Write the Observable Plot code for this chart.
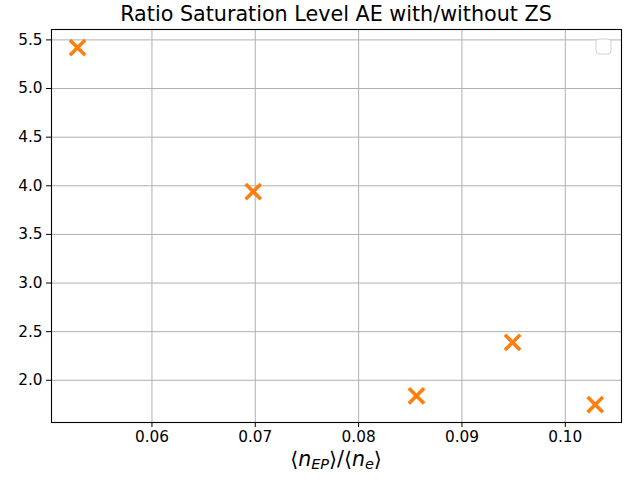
<!DOCTYPE html>
<html>
<head>
<meta charset="utf-8">
<script src="https://cdn.jsdelivr.net/npm/d3@7"></script>
<script src="https://cdn.jsdelivr.net/npm/@observablehq/plot@0.6"></script>
<style>
  body { margin: 0; background: #fff; }
  svg { font-family: "DejaVu Sans", sans-serif; }
</style>
</head>
<body>
<div id="chart"></div>
<script>
// Data
const ratioNep = [0.0528, 0.0698, 0.0856, 0.0949, 0.1029];
const saturationRatio = [5.42, 3.94, 1.84, 2.39, 1.75];
const xTicks = [0.06, 0.07, 0.08, 0.09, 0.10];
const yTicks = [2.0, 2.5, 3.0, 3.5, 4.0, 4.5, 5.0, 5.5];
const titleText = "Ratio Saturation Level AE with/without ZS";

const points = ratioNep.map((x, i) => ({x, y: saturationRatio[i]}));

const W = 640, H = 480;
const mL = 51, mR = 19, mT = 29, mB = 58;

const svg = Plot.plot({
  width: W,
  height: H,
  marginLeft: mL,
  marginRight: mR,
  marginTop: mT,
  marginBottom: mB,
  style: {fontFamily: "DejaVu Sans, sans-serif", fontSize: "15px", color: "#000", background: "#fff"},
  x: {domain: [0.05028, 0.10544], ticks: xTicks, tickFormat: d3.format(".2f"), label: null},
  y: {domain: [1.566, 5.607], ticks: yTicks, tickFormat: d3.format(".1f"), label: null},
  marks: [
    Plot.gridX(xTicks, {stroke: "#b0b0b0", strokeOpacity: 1, strokeWidth: 1}),
    Plot.gridY(yTicks, {stroke: "#b0b0b0", strokeOpacity: 1, strokeWidth: 1}),
    Plot.frame({stroke: "#000", strokeWidth: 1.1}),
    Plot.axisX(xTicks, {tickSize: 5, tickPadding: 4, tickFormat: d3.format(".2f"), fontSize: 15.3, stroke: "#000"}),
    Plot.axisY(yTicks, {tickSize: 5, tickPadding: 4, tickFormat: d3.format(".1f"), fontSize: 15.3, stroke: "#000"}),
    Plot.dot(points, {x: "x", y: "y", symbol: "times", r: 7, stroke: "#ff7f0e", strokeWidth: 3.6})
  ]
});

const s = d3.select(svg);
// Title
s.append("text")
  .attr("x", (mL + W - mR) / 2)
  .attr("y", 21)
  .attr("text-anchor", "middle")
  .attr("font-size", 20.7)
  .attr("fill", "#000")
  .text(titleText);

// X label: ⟨n_EP⟩/⟨n_e⟩
const xl = s.append("text")
  .attr("x", (mL + W - mR) / 2)
  .attr("y", 466)
  .attr("text-anchor", "middle")
  .attr("font-size", 20.5)
  .attr("fill", "#000");
xl.append("tspan").text("⟨");
xl.append("tspan").attr("font-style", "italic").text("n");
xl.append("tspan").attr("font-style", "italic").attr("font-size", 14.5).attr("dy", 3).text("EP");
xl.append("tspan").attr("dy", -3).text("⟩/⟨");
xl.append("tspan").attr("font-style", "italic").text("n");
xl.append("tspan").attr("font-style", "italic").attr("font-size", 14.5).attr("dy", 3).text("e");
xl.append("tspan").attr("dy", -3).text("⟩");

// Empty legend box (as in reference)
s.append("rect")
  .attr("x", 596).attr("y", 39)
  .attr("width", 15).attr("height", 15)
  .attr("rx", 3)
  .attr("fill", "#fff")
  .attr("stroke", "#d0d0d0")
  .attr("stroke-width", 1);

document.getElementById("chart").appendChild(svg);
</script>
</body>
</html>
